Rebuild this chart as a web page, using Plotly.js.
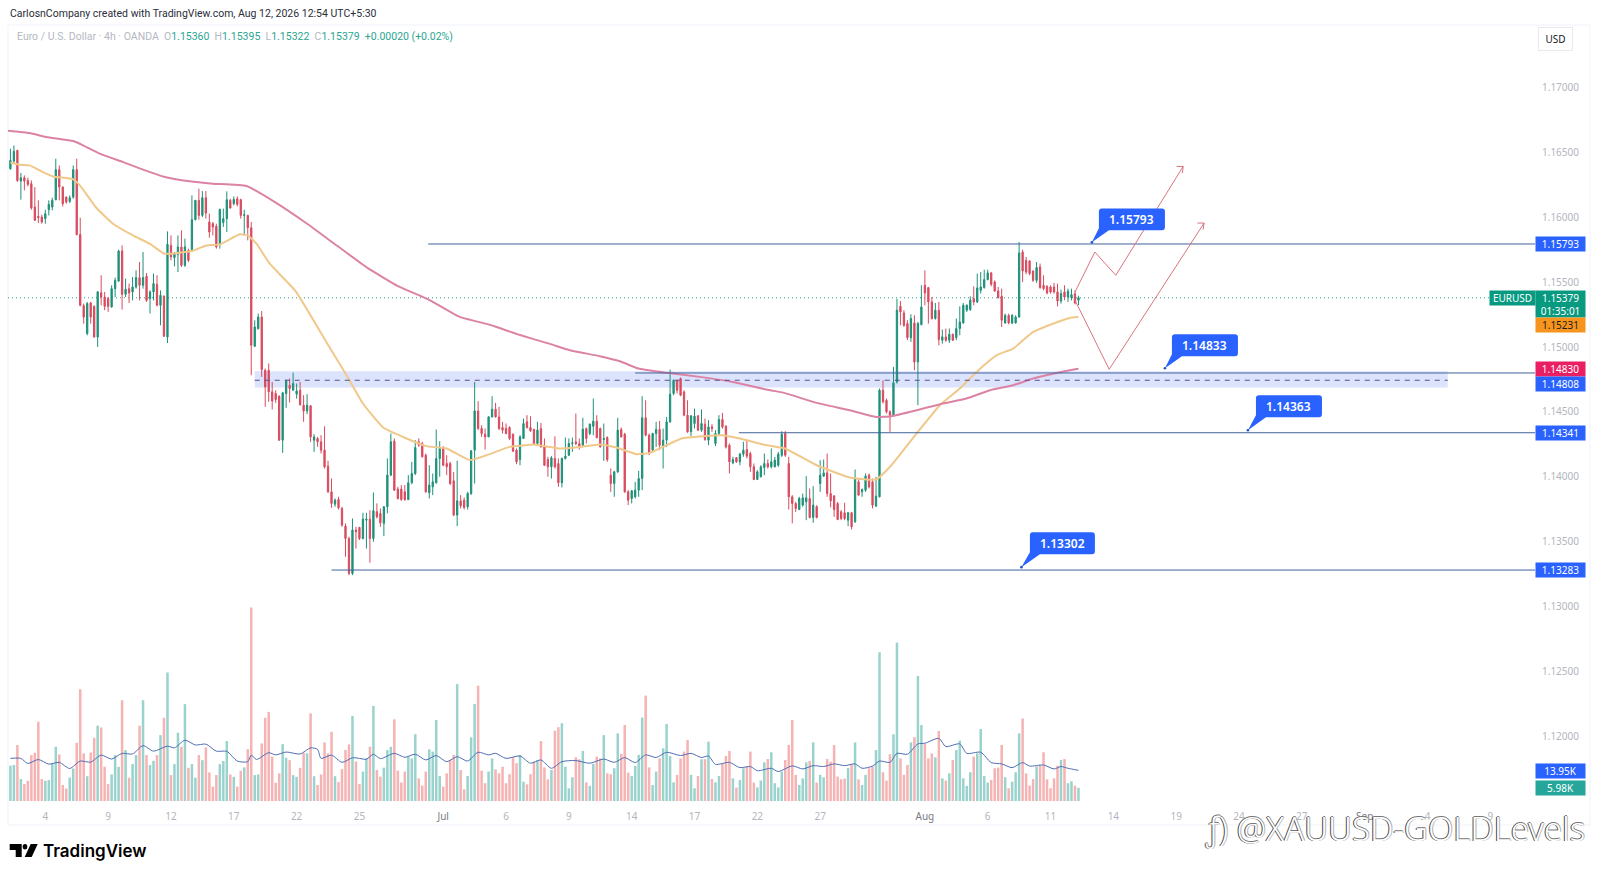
<!DOCTYPE html>
<html>
<head>
<meta charset="utf-8">
<script src="https://cdn.plot.ly/plotly-3.0.1.min.js"></script>
<style>html,body{margin:0;padding:0;background:#fff}#chart{width:1600px;height:878px}</style>
</head>
<body>
<div id="chart"></div>
<script>
const opens=[1.16372,1.16431,1.16513,1.16277,1.16303,1.16282,1.16257,1.16077,1.16006,1.16,
1.15988,1.16057,1.16077,1.16134,1.16365,1.16231,1.16154,1.16121,1.16154,1.16365,
1.15865,1.15318,1.15103,1.15339,1.15313,1.15077,1.15418,1.15385,1.15372,1.15308,
1.15449,1.15508,1.15739,1.15406,1.15449,1.15424,1.15462,1.15534,1.15475,1.15544,
1.15372,1.15424,1.15482,1.15321,1.1539,1.15077,1.15782,1.15688,1.15713,1.1577,
1.15629,1.15744,1.15739,1.1598,1.16129,1.16013,1.16149,1.15962,1.15949,1.15929,
1.15795,1.15957,1.15988,1.16129,1.16103,1.16141,1.16134,1.16013,1.16013,1.15918,
1.15006,1.15141,1.15231,1.14821,1.14821,1.14655,1.14642,1.14621,1.14283,1.14642,
1.14706,1.14667,1.14637,1.14667,1.14552,1.14508,1.14547,1.14283,1.14296,1.1427,
1.14206,1.14083,1.13885,1.1379,1.13826,1.13757,1.13621,1.13526,1.13257,1.13591,
1.13611,1.13526,1.13667,1.13675,1.13526,1.13732,1.13719,1.13642,1.1377,1.14014,
1.14275,1.13906,1.13906,1.13885,1.13826,1.13955,1.14026,1.1427,1.14257,1.14167,
1.13878,1.13924,1.13955,1.14142,1.14219,1.14103,1.14103,1.1397,1.13706,1.13816,
1.13821,1.1377,1.13873,1.14206,1.14508,1.14373,1.14329,1.14308,1.14462,1.14521,
1.14462,1.1438,1.14373,1.1438,1.14329,1.14206,1.14134,1.14296,1.14424,1.1438,
1.14365,1.14257,1.14372,1.14231,1.14134,1.14078,1.14142,1.14103,1.13955,1.14142,
1.14167,1.14257,1.1427,1.14257,1.14244,1.14372,1.14334,1.1439,1.14429,1.14372,
1.14288,1.14303,1.14013,1.13949,1.14039,1.14365,1.14329,1.13885,1.13834,1.13847,
1.13898,1.13988,1.14455,1.14321,1.14206,1.14334,1.14365,1.14231,1.14283,1.14424,
1.14642,1.14739,1.14757,1.14654,1.14475,1.14347,1.14411,1.1447,1.1436,1.14406,
1.14283,1.14385,1.14257,1.14334,1.14442,1.1439,1.14244,1.14108,1.14149,1.14116,
1.14175,1.14211,1.1418,1.14078,1.1398,1.14001,1.14072,1.14103,1.14078,1.14078,
1.1409,1.14167,1.14334,1.14103,1.13847,1.13795,1.13749,1.13783,1.13808,1.13834,
1.13688,1.1377,1.13949,1.14006,1.14031,1.13872,1.13854,1.13795,1.13731,1.13724,
1.13667,1.13724,1.13654,1.13962,1.13885,1.13898,1.14013,1.13962,1.13775,1.13847,
1.14667,1.1459,1.14501,1.14475,1.14731,1.15313,1.15262,1.1518,1.15072,1.15185,
1.14885,1.15172,1.15475,1.15457,1.15347,1.15219,1.15283,1.15052,1.15078,1.15052,
1.15098,1.15072,1.15142,1.15185,1.15283,1.15288,1.15372,1.15347,1.15436,1.15457,
1.15519,1.1557,1.15501,1.15431,1.1539,1.15185,1.15244,1.15185,1.15185,1.15231,
1.15731,1.15667,1.15662,1.15585,1.15513,1.15616,1.15475,1.15467,1.15462,1.15462,
1.15424,1.15354,1.15424,1.15385,1.1538,1.1541,1.1536];
const highs=[1.16526,1.16552,1.16518,1.16339,1.16321,1.16303,1.16282,1.16231,1.16129,1.16018,
1.16057,1.16129,1.16149,1.16449,1.16398,1.16236,1.16159,1.16167,1.16398,1.16449,
1.15995,1.15334,1.15347,1.15347,1.15321,1.15431,1.15552,1.15424,1.15385,1.15475,
1.15534,1.15749,1.15782,1.15526,1.15488,1.15539,1.1559,1.15654,1.15731,1.1557,
1.15436,1.15565,1.15552,1.15436,1.15398,1.1589,1.15859,1.15731,1.15859,1.15898,
1.15834,1.15757,1.16167,1.16129,1.16218,1.162,1.162,1.16026,1.15962,1.15949,
1.16065,1.16065,1.16198,1.16141,1.16159,1.16159,1.16141,1.16057,1.16018,1.15962,
1.15206,1.15257,1.15277,1.14834,1.14873,1.14731,1.14667,1.14629,1.14655,1.14749,
1.14757,1.14803,1.14719,1.14731,1.14629,1.14637,1.14552,1.14329,1.14308,1.14321,
1.1439,1.14124,1.13988,1.13834,1.13847,1.1377,1.13642,1.13539,1.1368,1.13616,
1.13616,1.13724,1.13724,1.13744,1.1388,1.13796,1.13757,1.13775,1.14142,1.14334,
1.14296,1.13924,1.13937,1.13937,1.14014,1.14116,1.14283,1.14296,1.1427,1.1418,
1.1409,1.14026,1.14365,1.14275,1.14237,1.14167,1.14116,1.14039,1.14124,1.1386,
1.13842,1.13885,1.14206,1.14731,1.14583,1.14398,1.14373,1.14467,1.14621,1.1457,
1.14539,1.14424,1.14411,1.1439,1.14334,1.14219,1.14321,1.14449,1.14475,1.14467,
1.14372,1.14424,1.14416,1.14296,1.14155,1.1416,1.14313,1.14142,1.14149,1.14303,
1.14296,1.14303,1.14488,1.14296,1.14455,1.1438,1.14411,1.14603,1.14475,1.1438,
1.14411,1.14313,1.14065,1.14047,1.14455,1.1438,1.14339,1.13898,1.13898,1.13962,
1.14047,1.14621,1.1459,1.14334,1.14339,1.14424,1.14431,1.14372,1.14462,1.14826,
1.14749,1.14749,1.14765,1.14667,1.1459,1.14475,1.14526,1.14475,1.14519,1.14449,
1.14437,1.14406,1.1436,1.14475,1.14493,1.14398,1.14257,1.14155,1.14149,1.14185,
1.1427,1.14283,1.14193,1.14103,1.14052,1.1409,1.1418,1.14134,1.14219,1.14154,
1.14193,1.14352,1.14352,1.14154,1.1386,1.13808,1.13847,1.13872,1.14006,1.13911,
1.13929,1.13783,1.14129,1.14134,1.1418,1.14026,1.1386,1.13808,1.13744,1.13801,
1.13731,1.13731,1.14057,1.13988,1.13911,1.14026,1.14026,1.13988,1.14001,1.1468,
1.14744,1.14603,1.14513,1.14847,1.15372,1.15354,1.15283,1.15206,1.15252,1.15244,
1.15193,1.15475,1.1559,1.15462,1.15385,1.15339,1.15347,1.15134,1.15142,1.15142,
1.15103,1.15219,1.15313,1.15339,1.15329,1.1539,1.15467,1.15565,1.15577,1.15595,
1.15595,1.15577,1.15513,1.15462,1.15449,1.15257,1.15257,1.15252,1.15244,1.15808,
1.15749,1.15693,1.15667,1.1559,1.15654,1.15642,1.15552,1.15475,1.15475,1.15493,
1.15488,1.15442,1.15475,1.15449,1.15449,1.15436,1.15395];
const lows=[1.16365,1.16411,1.1627,1.16134,1.16206,1.16236,1.16057,1.1597,1.15954,1.15949,
1.15949,1.16013,1.16052,1.16129,1.16129,1.16082,1.16103,1.16108,1.16141,1.15859,
1.15313,1.1518,1.1509,1.1518,1.15072,1.15,1.15321,1.15283,1.1527,1.15303,
1.15385,1.155,1.15288,1.15385,1.15339,1.15359,1.15449,1.15359,1.15449,1.15347,
1.15257,1.15359,1.15313,1.15167,1.15077,1.15031,1.15667,1.15621,1.15577,1.15616,
1.15616,1.15654,1.15731,1.15975,1.1598,1.16,1.15988,1.15841,1.15859,1.15757,
1.15757,1.15924,1.15885,1.16065,1.1609,1.16082,1.15988,1.15859,1.15821,1.14783,
1.15,1.15134,1.1477,1.14539,1.14578,1.14519,1.1457,1.14278,1.14185,1.14532,
1.14573,1.14667,1.14603,1.14547,1.14424,1.14483,1.1427,1.14193,1.14232,1.1418,
1.14065,1.13878,1.13762,1.1377,1.13749,1.13616,1.13385,1.13244,1.13244,1.13449,
1.13514,1.13519,1.13449,1.13339,1.13501,1.1368,1.13616,1.13544,1.13719,1.14006,
1.13893,1.13826,1.13816,1.13816,1.13821,1.13944,1.14014,1.14232,1.14149,1.13878,
1.13834,1.1386,1.13949,1.14001,1.14083,1.14014,1.13937,1.13698,1.13621,1.13757,
1.13749,1.13749,1.1386,1.13949,1.1436,1.14308,1.14211,1.14308,1.14457,1.14457,
1.1436,1.14334,1.14329,1.14283,1.14193,1.14098,1.1409,1.14296,1.14372,1.14347,
1.14252,1.14244,1.14226,1.14083,1.14001,1.13988,1.14065,1.13924,1.13919,1.14134,
1.1416,1.14193,1.14244,1.14211,1.14237,1.14257,1.14321,1.14321,1.14296,1.14226,
1.14124,1.14116,1.13885,1.13847,1.14031,1.14303,1.13878,1.13783,1.13796,1.13834,
1.13847,1.13898,1.14313,1.14167,1.14193,1.14231,1.14206,1.14065,1.14231,1.14416,
1.14629,1.14642,1.14621,1.14467,1.14339,1.14313,1.14372,1.14355,1.14347,1.14278,
1.14244,1.14347,1.14237,1.14321,1.14372,1.14219,1.14026,1.14098,1.14108,1.1409,
1.14155,1.14142,1.14039,1.13975,1.1398,1.13996,1.14013,1.14065,1.14065,1.14072,
1.14078,1.14154,1.14154,1.13749,1.13642,1.13731,1.13744,1.1377,1.13667,1.1368,
1.13647,1.1368,1.13885,1.14001,1.13847,1.13765,1.13693,1.13667,1.13667,1.13667,
1.13621,1.13595,1.13647,1.13852,1.13847,1.13885,1.13911,1.13757,1.1377,1.13842,
1.14565,1.14488,1.14347,1.14467,1.14719,1.15167,1.15154,1.15052,1.15039,1.14821,
1.14552,1.15167,1.15321,1.1518,1.15211,1.15211,1.15013,1.15026,1.15039,1.15031,
1.15047,1.15052,1.1509,1.1518,1.1527,1.15278,1.15321,1.15339,1.15411,1.15449,
1.15513,1.15467,1.15424,1.15372,1.15154,1.1518,1.15175,1.15175,1.1518,1.15226,
1.15501,1.1556,1.15552,1.15501,1.15493,1.15449,1.15436,1.15406,1.15411,1.15411,
1.15313,1.15334,1.1536,1.15347,1.15359,1.15328,1.15322];
const closes=[1.16436,1.16506,1.16282,1.16303,1.16277,1.16252,1.1607,1.15975,1.15995,1.15962,
1.16026,1.16098,1.16129,1.16365,1.16231,1.16103,1.16116,1.16149,1.16365,1.15865,
1.15321,1.15231,1.15334,1.15231,1.15077,1.15424,1.15385,1.15313,1.15313,1.15449,
1.15513,1.15739,1.15406,1.15444,1.15416,1.15462,1.15534,1.15475,1.15534,1.15359,
1.15424,1.15488,1.15321,1.15398,1.15083,1.1579,1.15693,1.15718,1.1577,1.15629,
1.1577,1.15667,1.1598,1.16129,1.16013,1.16149,1.16031,1.15885,1.15924,1.1577,
1.16059,1.15988,1.16134,1.1607,1.16136,1.16098,1.16013,1.16018,1.15918,1.15013,
1.15154,1.15231,1.14826,1.14693,1.14655,1.14585,1.14596,1.14283,1.14647,1.14739,
1.1468,1.14719,1.14662,1.14557,1.14508,1.14552,1.14308,1.14308,1.1427,1.14206,
1.14078,1.13885,1.13796,1.13821,1.13762,1.13629,1.13526,1.13257,1.13591,1.13578,
1.13526,1.13675,1.13675,1.13526,1.13739,1.13693,1.13647,1.1377,1.14014,1.1427,
1.13898,1.13834,1.13826,1.13826,1.13955,1.14026,1.14226,1.14244,1.14155,1.13885,
1.13937,1.13962,1.14142,1.14219,1.1409,1.14078,1.13949,1.13706,1.13816,1.13778,
1.13765,1.13873,1.14201,1.14508,1.14373,1.14334,1.14308,1.14462,1.14521,1.14462,
1.14373,1.1436,1.14334,1.14296,1.14198,1.14116,1.14308,1.14411,1.1438,1.14355,
1.14257,1.1436,1.14231,1.1409,1.14078,1.14147,1.14078,1.13955,1.14142,1.1416,
1.14257,1.14262,1.14257,1.14231,1.14367,1.14296,1.14406,1.14429,1.14303,1.14231,
1.14296,1.14134,1.13949,1.14039,1.1436,1.14308,1.13885,1.13821,1.13893,1.13898,
1.13988,1.14455,1.14321,1.1418,1.14334,1.14365,1.14244,1.14283,1.14424,1.14637,
1.14744,1.14667,1.14629,1.14475,1.14347,1.1447,1.14467,1.1436,1.14411,1.14288,
1.14385,1.14372,1.14334,1.14442,1.14385,1.14231,1.14116,1.14134,1.14116,1.14175,
1.14206,1.1416,1.14078,1.1398,1.14039,1.14078,1.14103,1.14078,1.14116,1.14129,
1.14175,1.14329,1.14167,1.13847,1.13795,1.13757,1.13834,1.13839,1.13839,1.13688,
1.13783,1.13688,1.14013,1.14031,1.13872,1.13816,1.13749,1.13672,1.1368,1.1368,
1.13724,1.13616,1.13988,1.1386,1.13903,1.14006,1.13924,1.13783,1.13852,1.14667,
1.14578,1.14501,1.14475,1.14724,1.15283,1.1527,1.15167,1.15072,1.15219,1.14885,
1.1518,1.15308,1.15416,1.15347,1.15219,1.15283,1.15057,1.15078,1.15052,1.15098,
1.15052,1.15142,1.15193,1.15321,1.15321,1.1536,1.15347,1.15454,1.15462,1.15519,
1.1557,1.15483,1.15431,1.1538,1.15206,1.15244,1.15185,1.15244,1.15231,1.15724,
1.15585,1.15577,1.15565,1.15513,1.15611,1.15457,1.15449,1.15416,1.15424,1.15424,
1.15354,1.15411,1.15385,1.15429,1.15403,1.15339,1.15379];
const volumesK=[16.1,16.4,25.5,10,7.7,9.2,20.9,22,36.1,10,9.2,9.5,17.1,24.7,21.2,7.3,5.7,10.7,14.8,26.5,
50.9,21.7,11.3,22.1,28.8,34.3,33.5,15.6,7.7,12.1,20.9,15.6,45.9,23.2,10.6,16.8,20.9,34.3,45.9,20.9,
16.4,18.3,20.9,30,37.9,58.5,11.8,16.8,31.1,24.7,44.1,15.1,16.8,10.6,20.9,18.6,24.4,13,6.5,11.8,
16.8,18.2,27.3,12.1,11,6.5,13.8,15.3,23.6,88.1,11.8,12.1,26.2,37.9,40.6,20.2,8.3,12.6,25.9,19.7,
18.6,11.8,11,15.1,22,21.7,39.9,11.3,7.3,12.1,26.7,21.7,31.5,11.3,8.6,14.5,23.2,25.8,38.7,18,
7.8,13.4,19.4,24.7,43.3,14.1,11.1,15.2,23.2,24.7,37.2,13.8,8.4,13.4,20.2,19.4,30.4,10.3,7,13.4,
23.5,22.5,36.9,11.4,6.5,12.6,18.7,21,53.3,14.1,5.3,11.4,29,44.2,52.5,13.8,8.1,13.4,19.4,14.4,
12.6,15.6,8.1,12.2,19.9,17.2,21,8.8,7.6,12.2,18,18.7,27.3,15.3,9.9,14.1,32,33.6,35.4,15.6,
5.8,10.8,19.9,19,22.8,8.5,6.9,16.9,20.2,19.4,30,12.6,12.2,14.9,30.8,21.4,34.6,12.9,11.4,16,
21,38,48,15.3,7.3,13.4,19.4,24,35.1,20.5,8.5,11.9,19.4,22.5,27.8,11.9,5.8,11.4,19,19,
27,10,8.5,11.4,17.2,20.5,22.8,10.3,6.1,9.6,14.9,15.7,22.5,8.4,6.2,9.3,17.6,19.1,22.2,8.1,
6.2,13.4,18.7,25.5,36.9,11.9,7.3,10.3,17.6,18.2,26.7,8.4,11.9,10.8,19.1,17.9,25.5,11.1,9.9,10.2,
15,16.7,26.7,9.9,7.3,11.9,14.9,15.7,23.2,67.7,13.1,9.3,21.3,30.4,72.1,19.4,11.9,16.4,26.7,29,
56.9,34.6,26,19.4,21.7,19.9,31.9,10.3,9.3,12.6,18.7,23.2,27.5,10.3,6.9,13.1,20.2,21.7,32.8,11.4,
8.4,9.6,14.9,15.2,25.5,10.8,5.8,8.8,13.1,30.8,37.6,12.6,7,10,15.7,16.4,22.2,9.9,5.8,10.3,
16.1,18.7,19.1,8.1,9,7,5.98];

const volMaIdx=[0,3,5,8,11,14,17,20,23,26,29,32,35,38,41,45,47,50,53,56,59,62,65,68,69,70.5,74,76,79,83,86,88,89,92,95,98,100,102,104,106,110,113,116,119,122,125,128,131,134,137,139,142,146,149,152,155,158,162,166,170,173,176,179,182,185,188,192,195,198,200,202,206,209,212,214,218,220,224,227,230,233,236,239,242,244,247,249,252,254,257,260,262,266,268,272,274,278,281,284,287,290,292,296,299,301,303,306];
const volMaK=[19.4,19.4,17.1,18.9,16.8,17.6,14.8,18.2,17.7,20.9,19.1,21.7,21.4,25.2,22.7,25,24.2,27.7,25.5,25.9,22.7,22.6,18.2,17.9,20.9,18.9,22,21,22.3,21.4,24.2,23.5,19.4,20.9,17.6,19.7,19.4,19,21.3,19.3,21.7,19.9,21.3,18.7,20.7,17.9,20.2,18.2,22.2,21,21.7,19.4,20.5,17.2,18.7,14.9,17.9,18.4,17.2,19.1,17.6,19.8,17.5,21,19.8,22.2,20.7,21.7,19.8,20.5,16.7,17.6,15.2,15.7,13.8,14.9,13.4,16,14.6,16.1,15.7,16.9,16.1,16.9,14.9,15.9,18.2,17.6,21.7,21.3,26,26.3,28.5,24.8,26,21.7,22.2,17.5,16.9,15.2,17.5,15.9,16.4,14.6,15.7,14.9,13.95];

const emaFastIdx=[0,2.5,5.5,8.9,12.2,18,19.9,24.6,29.4,35.1,39.9,44.2,51.9,56.2,60,65.7,68,70.5,74.3,81.7,90.5,96.3,101,106.8,113.5,119.2,125,131.6,136.4,143,146,149.8,157.4,163.1,168.9,173.6,179.4,183.2,188,192.3,198.5,203.8,209,215.7,221.9,231,240.5,248,252.4,259.6,266.3,272,276.8,282.5,287.3,293,296.8,303.5,306];
const emaFast=[1.1642,1.16403,1.16398,1.16352,1.16313,1.1629,1.16244,1.16072,1.15949,1.15859,1.15795,1.15718,1.15739,1.15782,1.1579,1.15867,1.15859,1.15795,1.15641,1.1543,1.15039,1.14783,1.14565,1.1438,1.14296,1.14237,1.14219,1.14129,1.14167,1.14231,1.14239,1.1425,1.14219,1.14231,1.1425,1.14226,1.14175,1.14185,1.14244,1.14296,1.14313,1.14321,1.14296,1.14249,1.14219,1.1409,1.13995,1.1398,1.1409,1.14334,1.14552,1.1468,1.14808,1.14936,1.14988,1.15116,1.1516,1.15224,1.15231];
const emaSlowIdx=[-0.7,5.5,10.3,18,20.8,25.6,32.3,38,43.7,51.4,58,67.6,75.9,84.6,93.4,102.2,111,119.7,128.5,137.3,146,154.8,160.3,168.9,174.6,179.9,188,197.5,207,217.6,221.4,231,240.5,248,252.4,259.6,266.3,273.9,280.6,287.3,293,303.5,306];
const emaSlow=[1.16665,1.16647,1.16616,1.16585,1.16552,1.16488,1.16423,1.16365,1.16313,1.16275,1.16257,1.16239,1.16113,1.15956,1.15783,1.15611,1.15469,1.15367,1.15234,1.15171,1.15092,1.15022,1.14975,1.14929,1.1489,1.14834,1.14801,1.1477,1.14731,1.14667,1.14649,1.1457,1.14513,1.14462,1.14467,1.14513,1.1456,1.14603,1.14667,1.14706,1.14757,1.14821,1.14833];

const priceTicks=[1.17,1.165,1.16,1.155,1.15,1.145,1.14,1.135,1.13,1.125,1.12];
const timeTickIdx=[10,28,46,64,82,100,124,142,160,178,196,214,232,262,280,298,316,334,352,370,388,406,424];
const timeTickLabels=['4','9','12','17','22','25','Jul','6','9','14','17','22','27','Aug','6','11','14','19','24','27','Sep','4','9'];
const monthLabels=['Jul','Aug','Sep'];

const levelPrices=[1.15793,1.148,1.1434,1.13283];
const levelStartIdx=[119.7,179,208.7,92];
const bandLow=1.14688, bandHigh=1.14813, bandMid=1.14744, bandStartIdx=70, bandEndIdx=411.8;
const lastPrice=1.15379;
const routeAIdx=[305,310.7,316.7,336], routeAPrice=[1.15423,1.15731,1.15552,1.1639];
const routeBIdx=[305,314.8,342], routeBPrice=[1.1536,1.14828,1.15954];

const calloutTexts=['1.15793','1.14833','1.14363','1.13302'];
const tagTexts=['1.15793','1.15379<br>01:35:01','1.15231','1.14830','1.14808','1.14341','1.13283','13.95K','5.98K'];

const PL=8.3,PR=1535,PT=24.5,PB=802;
const fx=x=>(x-PL)/(PR-PL), fy=y=>(PB-y)/(PB-PT);
const FONT='"Noto Sans", "Open Sans", sans-serif';
const idx=opens.map((_,i)=>i);
const volColors=idx.map(i=>closes[i]>=opens[i]?'#9ad3cd':'#f5b3b3');

const traces=[
 {type:'bar',x:idx,y:volumesK,xaxis:'x',yaxis:'y',marker:{color:volColors,line:{width:0}},hoverinfo:'skip',showlegend:false},
 {type:'scatter',mode:'lines',x:volMaIdx,y:volMaK,xaxis:'x',yaxis:'y',line:{color:'#4f6db5',width:1,shape:'spline',smoothing:0.7},hoverinfo:'skip',showlegend:false},
 {type:'candlestick',x:idx,open:opens,high:highs,low:lows,close:closes,xaxis:'x',yaxis:'y2',whiskerwidth:0,
  increasing:{line:{color:'#1d9179',width:1},fillcolor:'#1d9179'},decreasing:{line:{color:'#d94a5e',width:1},fillcolor:'#d94a5e'},hoverinfo:'skip',showlegend:false},
 {type:'scatter',mode:'lines',x:emaFastIdx,y:emaFast,xaxis:'x',yaxis:'y2',line:{color:'#f0c88a',width:2,shape:'spline',smoothing:0.4},hoverinfo:'skip',showlegend:false},
 {type:'scatter',mode:'lines',x:emaSlowIdx,y:emaSlow,xaxis:'x',yaxis:'y2',line:{color:'#dc83a5',width:2,shape:'spline',smoothing:0.4},hoverinfo:'skip',showlegend:false}
];

const shapes=[];
shapes.push({type:'rect',xref:'paper',yref:'paper',x0:0,x1:fx(1590),y0:fy(825),y1:1,line:{color:'#f0f3fa',width:1},fillcolor:'rgba(0,0,0,0)',layer:'below'});
shapes.push({type:'rect',xref:'x',yref:'y2',x0:bandStartIdx,x1:bandEndIdx,y0:bandLow,y1:bandHigh,line:{width:0},fillcolor:'#dce3fc',layer:'below'});
shapes.push({type:'line',xref:'x',yref:'y2',x0:bandStartIdx,x1:bandEndIdx,y0:bandMid,y1:bandMid,line:{color:'#5a4f90',width:1,dash:'5px,5px'},layer:'above'});
shapes.push({type:'line',xref:'x',yref:'y2',x0:-0.7,x1:436.8,y0:lastPrice,y1:lastPrice,line:{color:'#2a9d88',width:1,dash:'1px,3px'},layer:'below'});
levelPrices.forEach((p,i)=>shapes.push({type:'line',xref:'x',yref:'y2',x0:levelStartIdx[i],x1:436.8,y0:p,y1:p,line:{color:'#41639c',width:1},layer:'above'}));
function routePath(xs,ys){return xs.map((x,i)=>(i?'L':'M')+x+','+ys[i]).join(' ');}
const routeLine={color:'#d9737f',width:1};
shapes.push({type:'path',xref:'x',yref:'y2',path:routePath(routeAIdx,routeAPrice),line:routeLine,layer:'above'});
shapes.push({type:'path',xref:'x',yref:'y2',path:routePath(routeBIdx,routeBPrice),line:routeLine,layer:'above'});
shapes.push({type:'path',xref:'x',yref:'y2',path:routePath([334.1,336,335.8],[1.1639,1.1639,1.16338]),line:routeLine,layer:'above'});
shapes.push({type:'path',xref:'x',yref:'y2',path:routePath([340.1,342,341.7],[1.15954,1.15954,1.15903]),line:routeLine,layer:'above'});

const annotations=[];
function callout(x0,y0,x1,y1,tx,ty,txt){
 const r=3;
 const p=`M${fx(x0+r)},${fy(y0)} L${fx(x1-r)},${fy(y0)} Q${fx(x1)},${fy(y0)} ${fx(x1)},${fy(y0+r)} L${fx(x1)},${fy(y1-r)} Q${fx(x1)},${fy(y1)} ${fx(x1-r)},${fy(y1)} L${fx(x0+10)},${fy(y1)} L${fx(tx)},${fy(ty)} L${fx(x0)},${fy(y1-2)} L${fx(x0)},${fy(y0+r)} Q${fx(x0)},${fy(y0)} ${fx(x0+r)},${fy(y0)} Z`;
 shapes.push({type:'path',xref:'paper',yref:'paper',path:p,fillcolor:'#2962ff',line:{width:0},layer:'above'});
 shapes.push({type:'circle',xref:'paper',yref:'paper',x0:fx(tx-1.3),x1:fx(tx+1.3),y0:fy(ty+1.3),y1:fy(ty-1.3),fillcolor:'#1e4fd0',line:{width:0},layer:'above'});
 annotations.push({xref:'paper',yref:'paper',x:fx((x0+x1)/2),y:fy((y0+y1)/2),text:txt,showarrow:false,font:{family:FONT,size:12,color:'#fff',weight:600},xanchor:'center',yanchor:'middle'});
}
callout(1099,208,1165,230,1092,242,calloutTexts[0]);
callout(1172,334,1238,356,1165,368,calloutTexts[1]);
callout(1256,395,1322,417,1248,430,calloutTexts[2]);
callout(1030,532,1095,554,1021.5,567,calloutTexts[3]);

const tagColors=['#2962ff','#089981','#f7941d','#e91e63','#2962ff','#2962ff','#2962ff','#2962ff','#26a69a'];
const tagFont=['#fff','#fff','#1c1c1c','#fff','#fff','#fff','#fff','#fff','#fff'];
const tagCentre=[244,303.5,324.7,368.5,383.5,432.3,570,770.7,787.7];
const tagHeight=[12,24,12,12,12,12,12,12,12];
tagTexts.forEach((t,i)=>annotations.push({xref:'paper',yref:'paper',x:1,y:fy(tagCentre[i]),xanchor:'left',yanchor:'middle',text:t,showarrow:false,width:47,height:tagHeight[i],borderpad:1,bgcolor:tagColors[i],align:'center',valign:'middle',font:{family:FONT,size:10,color:tagFont[i]}}));
annotations.push({xref:'paper',yref:'paper',x:fx(1489),y:fy(297.5),xanchor:'left',yanchor:'middle',text:'EURUSD',showarrow:false,width:43,height:12,borderpad:1,bgcolor:'#089981',font:{family:FONT,size:10,color:'#fff'}});
annotations.push({xref:'paper',yref:'paper',x:fx(1538),y:fy(39),xanchor:'left',yanchor:'middle',text:'USD',showarrow:false,width:31,height:20,bgcolor:'#fff',bordercolor:'#e8eaf0',borderwidth:1,font:{family:FONT,size:10,color:'#131722'}});
annotations.push({xref:'paper',yref:'paper',x:fx(8),y:fy(13),xanchor:'left',yanchor:'middle',text:'CarlosnCompany created with TradingView.com, Aug 12, 2026 12:54 UTC+5:30',showarrow:false,font:{family:'Roboto, sans-serif',size:10.5,color:'#2a2e39'}});
const G='#b4b8c2',T='#2ba593';
annotations.push({xref:'paper',yref:'paper',x:fx(15),y:fy(36.5),xanchor:'left',yanchor:'middle',showarrow:false,
 text:`<span style="color:${G}">Euro / U.S. Dollar · 4h · OANDA  O</span><span style="color:${T}">1.15360</span><span style="color:${G}">  H</span><span style="color:${T}">1.15395</span><span style="color:${G}">  L</span><span style="color:${T}">1.15322</span><span style="color:${G}">  C</span><span style="color:${T}">1.15379</span><span style="color:${T}">  +0.00020 (+0.02%)</span>`,
 font:{family:'Roboto, sans-serif',size:10.5,color:G}});
const lg=(pts)=>pts.map((p,i)=>(i?'L':'M')+fx(p[0])+','+fy(p[1])).join(' ')+' Z';
shapes.push({type:'path',xref:'paper',yref:'paper',path:lg([[10,844],[22,844],[22,857],[16,857],[16,850],[10,850]]),fillcolor:'#000',line:{width:0}});
shapes.push({type:'circle',xref:'paper',yref:'paper',x0:fx(23),x1:fx(27.6),y0:fy(849.6),y1:fy(844),fillcolor:'#000',line:{width:0}});
shapes.push({type:'path',xref:'paper',yref:'paper',path:lg([[31,844],[38,844],[32,857],[25,857]]),fillcolor:'#000',line:{width:0}});
annotations.push({xref:'paper',yref:'paper',x:fx(41),y:fy(851.5),xanchor:'left',yanchor:'middle',text:'TradingView',showarrow:false,font:{family:'Inter, sans-serif',size:17,weight:600,color:'#000'}});
annotations.push({xref:'paper',yref:'paper',x:fx(1203),y:fy(829),xanchor:'left',yanchor:'middle',text:'ƒ) @XAUUSD-GOLDLevels',showarrow:false,
 font:{family:FONT,size:33,weight:300,color:'#ffffff',shadow:'-1px 0 0 #444, 0 -1px 0 #777, 1px 0 0 #bbb'}});

const layout={
 width:1600,height:878,paper_bgcolor:'#fff',plot_bgcolor:'#fff',showlegend:false,dragmode:false,
 margin:{l:PL,r:1600-PR,t:PT,b:878-PB,pad:0},
 boxgap:0.47,bargap:0.28,
 xaxis:{range:[-0.69,436.8],tickmode:'array',tickvals:timeTickIdx,
  ticktext:timeTickLabels.map(t=>monthLabels.includes(t)?`<span style="color:#787b86">${t}</span>`:t),
  tickfont:{family:FONT,size:10,color:'#b2b5be'},ticklen:5,tickcolor:'rgba(0,0,0,0)',showgrid:false,zeroline:false,showline:false,
  rangeslider:{visible:false},fixedrange:true},
 yaxis:{range:[-0.45,353.3],visible:false,fixedrange:true,showgrid:false,zeroline:false},
 yaxis2:{overlaying:'y',side:'right',range:[1.114977,1.174785],tickmode:'array',tickvals:priceTicks,ticktext:priceTicks.map(v=>v.toFixed(5)),
  tickfont:{family:FONT,size:10,color:'#b2b5be'},ticklen:4,tickcolor:'rgba(0,0,0,0)',showgrid:false,zeroline:false,showline:false,fixedrange:true},
 shapes,annotations
};
Plotly.newPlot('chart',traces,layout,{displayModeBar:false,staticPlot:true});
</script>
</body>
</html>
